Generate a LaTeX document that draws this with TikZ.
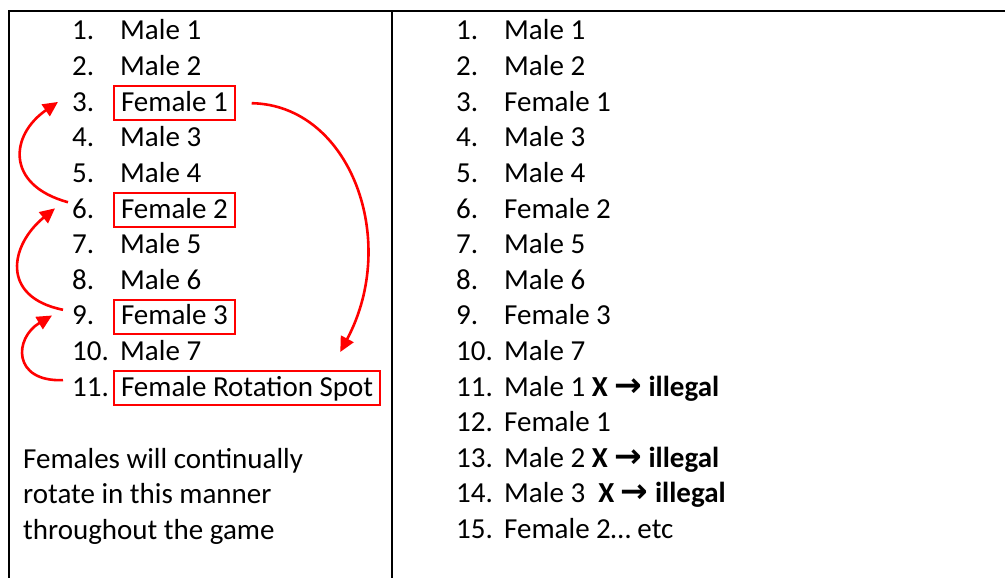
\documentclass[tikz,border=0pt]{standalone}
\usepackage{fontspec}
\setmainfont{Carlito}
\newfontfamily\symfont{DejaVu Sans}
\usetikzlibrary{arrows.meta}
\definecolor{boxred}{RGB}{255,0,0}
\newcommand{\txtsize}{\fontsize{29}{35.6}\selectfont}
\newcommand{\illegal}{\textbf{X {\symfont\bfseries\fontsize{33}{30}\selectfont →} illegal}}
\begin{document}
\begin{tikzpicture}[x=1pt,y=-1pt,
  num/.style={anchor=base west, inner sep=0pt, font=\txtsize},
  item/.style={anchor=base west, inner xsep=7pt, inner ysep=0pt, text height=25pt, text depth=9pt, font=\txtsize},
  fbox/.style={item, draw=boxred, line width=2pt},
  rot/.style={draw=boxred, line width=2.6pt, -{Triangle[length=15pt,width=14pt]}},
  rulel/.style={line width=2pt}]
\useasboundingbox (0,0) rectangle (1005,578);
% table rules
\draw[rulel] (9,578) -- (9,11) -- (1005,11);
\draw[rulel] (392,11) -- (392,578);
% left column
\node[num] (ln1) at (72,40) {1.};
\node[num] (ln2) at (72,75.6) {2.};
\node[num] (ln3) at (72,111.2) {3.};
\node[num] (ln4) at (72,146.8) {4.};
\node[num] (ln5) at (72,182.4) {5.};
\node[num] (ln6) at (72,218) {6.};
\node[num] (ln7) at (72,253.6) {7.};
\node[num] (ln8) at (72,289.2) {8.};
\node[num] (ln9) at (72,324.8) {9.};
\node[num] (ln10) at (72,360.4) {10.};
\node[num] (ln11) at (72,396) {11.};
\node[item] (lt1) at (113,40) {Male 1};
\node[item] (lt2) at (113,75.6) {Male 2};
\node[fbox] (lt3) at (113,111.2) {Female 1};
\node[item] (lt4) at (113,146.8) {Male 3};
\node[item] (lt5) at (113,182.4) {Male 4};
\node[fbox] (lt6) at (113,218) {Female 2};
\node[item] (lt7) at (113,253.6) {Male 5};
\node[item] (lt8) at (113,289.2) {Male 6};
\node[fbox] (lt9) at (113,324.8) {Female 3};
\node[item] (lt10) at (113,360.4) {Male 7};
\node[fbox] (lt11) at (113,396) {Female Rotation Spot};
\node[num] (note1) at (23,468) {Females will continually};
\node[num] (note2) at (23,503.6) {rotate in this manner};
\node[num] (note3) at (23,539.2) {throughout the game};
% arrow end points
\coordinate (a1s) at ([xshift=16pt]lt3.east);
\coordinate (a1e) at ([xshift=-41pt,yshift=18pt]lt11.north east);
\coordinate (a2s) at ([xshift=-4pt,yshift=-4pt]ln6.north west);
\coordinate (a2e) at ([xshift=-14pt]ln3.west);
\coordinate (a3s) at ([xshift=-9pt,yshift=-4pt]ln9.north west);
\coordinate (a3e) at ([xshift=-17pt]ln6.west);
\coordinate (a4s) at ([xshift=-9pt,yshift=-3pt]ln11.north west);
\coordinate (a4e) at ([xshift=-20pt]ln9.west);
\draw[rot] (a1s) .. controls (350,105) and (400,240) .. (a1e);
\draw[rot] (a2s) .. controls (5,185) and (10,135) .. (a2e);
\draw[rot] (a3s) .. controls (0,297) and (10,245) .. (a3e);
\draw[rot] (a4s) .. controls (12,382) and (14,338) .. (a4e);
% right column
\node[num] (rn1) at (456,40) {1.};
\node[num] (rn2) at (456,75.6) {2.};
\node[num] (rn3) at (456,111.2) {3.};
\node[num] (rn4) at (456,146.8) {4.};
\node[num] (rn5) at (456,182.4) {5.};
\node[num] (rn6) at (456,218) {6.};
\node[num] (rn7) at (456,253.6) {7.};
\node[num] (rn8) at (456,289.2) {8.};
\node[num] (rn9) at (456,324.8) {9.};
\node[num] (rn10) at (456,360.4) {10.};
\node[num] (rn11) at (456,396) {11.};
\node[num] (rn12) at (456,431.6) {12.};
\node[num] (rn13) at (456,467.2) {13.};
\node[num] (rn14) at (456,502.8) {14.};
\node[num] (rn15) at (456,538.4) {15.};
\node[num] (rt1) at (504,40) {Male 1};
\node[num] (rt2) at (504,75.6) {Male 2};
\node[num] (rt3) at (504,111.2) {Female 1};
\node[num] (rt4) at (504,146.8) {Male 3};
\node[num] (rt5) at (504,182.4) {Male 4};
\node[num] (rt6) at (504,218) {Female 2};
\node[num] (rt7) at (504,253.6) {Male 5};
\node[num] (rt8) at (504,289.2) {Male 6};
\node[num] (rt9) at (504,324.8) {Female 3};
\node[num] (rt10) at (504,360.4) {Male 7};
\node[num] (rt11) at (504,396) {Male 1 \illegal};
\node[num] (rt12) at (504,431.6) {Female 1};
\node[num] (rt13) at (504,467.2) {Male 2 \illegal};
\node[num] (rt14) at (504,502.8) {Male 3\ \ \illegal};
\node[num] (rt15) at (504,538.4) {Female 2… etc};
\end{tikzpicture}
\end{document}
